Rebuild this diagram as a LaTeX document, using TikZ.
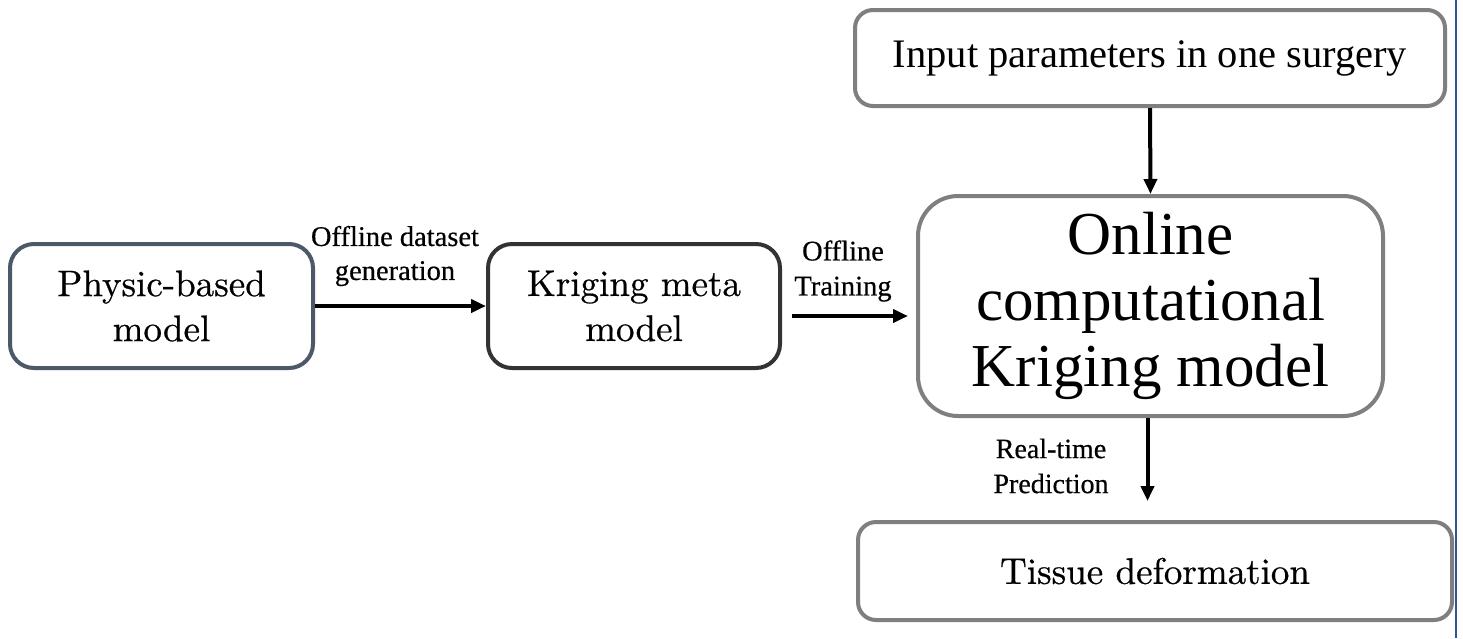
\documentclass[tikz,border=0pt]{standalone}
\usepackage{fontspec}
\newfontfamily\lab{Liberation Serif}
\newfontfamily\labb[FakeBold=0.5]{Liberation Serif}
\newfontfamily\cfont[FakeBold=0.6]{lmroman10-regular.otf}
\usetikzlibrary{arrows.meta}
\definecolor{slate}{HTML}{4D5869}
\definecolor{dgray}{HTML}{333333}
\definecolor{mgray}{HTML}{7F7F7F}
\definecolor{edgeblue}{HTML}{2F5597}
\tikzset{
  box/.style={draw, line width=4pt, rounded corners=24pt, align=center, inner sep=0pt, fill=white},
  arr/.style={line width=4pt, -{Triangle[length=15pt,width=13pt]}},
  lbl/.style={align=center, inner sep=0pt, font=\labb\fontsize{28.5}{34}\selectfont},
}
\begin{document}
\begin{tikzpicture}[x=1pt,y=-1pt]
\useasboundingbox (0,0) rectangle (1463,638);
\fill[white] (0,0) rectangle (1463,638);
\draw[edgeblue, line width=2pt] (1456,0) -- (1456,638);

\node[box, draw=slate, minimum width=303pt, minimum height=124pt, font=\cfont\fontsize{37}{45}\selectfont] (phys) at (161.5,306) {Physic-based\\model};
\node[box, draw=dgray, minimum width=292pt, minimum height=124pt, font=\cfont\fontsize{37}{45}\selectfont] (krig) at (634,306) {Kriging meta\\model};
\node[box, draw=mgray, rounded corners=40pt, minimum width=465pt, minimum height=220pt, font=\lab\fontsize{61}{66}\selectfont] (online) at (1150.5,306) {Online\\computational\\Kriging model};
\node[box, draw=mgray, rounded corners=18pt, minimum width=590pt, minimum height=96pt, font=\lab\fontsize{40.5}{46}\selectfont] (input) at (1150,58) {Input parameters in one surgery};
\node[box, draw=mgray, rounded corners=18pt, minimum width=594pt, minimum height=98pt, font=\cfont\fontsize{37}{44}\selectfont] (tissue) at (1155,571) {Tissue deformation};

\draw[arr] (phys.east) -- (krig.west);
\draw[arr, shorten <=10pt, shorten >=8pt] ([yshift=-10pt]krig.east) -- ([yshift=-10pt]online.west);
\draw[arr] (input.south) -- (online.north);
\draw[arr, shorten >=19pt] ([xshift=-3pt]online.south) -- ([xshift=-3pt]online.south |- tissue.north);

\node[lbl] (l1) at (395,256) {Offline dataset\\generation};
\node[lbl, font=\labb\fontsize{28.5}{35}\selectfont] (l2) at (843,271) {Offline\\Training};
\node[lbl, font=\labb\fontsize{28}{35}\selectfont] (l3) at (1051,466) {Real-time\\Prediction};
\end{tikzpicture}
\end{document}
